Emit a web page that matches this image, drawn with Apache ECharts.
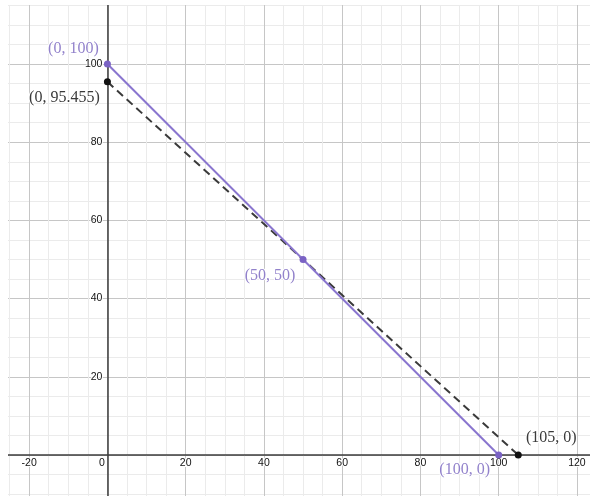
<!DOCTYPE html>
<html>
<head>
<meta charset="utf-8">
<script src="https://cdn.jsdelivr.net/npm/echarts@6/dist/echarts.min.js"></script>
<style>
  html, body { margin: 0; padding: 0; background: #fff; }
  #chart { position: absolute; left: 8px; top: 5px; width: 582px; height: 491px; overflow: hidden; }
</style>
</head>
<body>
<div id="chart"></div>
<script>
// solid purple line and its points
const solidPoints = [[0, 100], [50, 50], [100, 0]]
const solidLabels = ['(0, 100)', '(50, 50)', '(100, 0)']
// dashed black line (end points)
const dashedPoints = [[0, 95.455], [105, 0]]
const dashedLabels = ['(0, 95.455)', '(105, 0)']
// axis ranges and ticks
const xRange = [-40, 140]
const yRange = [-20, 120]
const tickStep = 20

// where each label sits relative to its point (px)
const solidOffsets = [[-34, -15], [-33, 16], [-34, 15]]
const dashedOffsets = [[-43, 16], [33, -17]]

const purple = '#8a76cf'
const purpleText = '#9282cb'
const dark = '#3a3a3a'

// grid is larger than the view so the edges land on round numbers
const grid = { left: -57.1, right: -65.2, top: -19.2, bottom: -37.2 }
const W = 582, H = 491
const pxX = (W - grid.left - grid.right) / (xRange[1] - xRange[0])
const pxY = (H - grid.top - grid.bottom) / (yRange[1] - yRange[0])
// move the axes (line + labels) onto the zero lines
const xAxisOffset = -(0 - yRange[0]) * pxY
const yAxisOffset = -(0 - xRange[0]) * pxX

const chart = echarts.init(document.getElementById('chart'))

const tickLabel = {
  fontFamily: 'Liberation Sans, Arial, sans-serif',
  fontSize: 10.5,
  color: '#111',
  textBorderColor: '#fff',
  textBorderWidth: 2,
}

function pointLabel(color) {
  return {
    show: true,
    position: 'inside',
    fontFamily: 'Liberation Serif, Times New Roman, serif',
    fontSize: 16,
    color: color,
    textBorderColor: '#fff',
    textBorderWidth: 2,
  }
}

function axisCommon(range) {
  return {
    type: 'value',
    min: range[0],
    max: range[1],
    interval: tickStep,
    axisLine: { onZero: false, lineStyle: { color: '#3c3c3c', width: 1.5 } },
    axisTick: { show: false },
    splitLine: { show: true, lineStyle: { color: '#c6c6c6', width: 1 } },
    minorTick: { show: false, splitNumber: 4 },
    minorSplitLine: { show: true, lineStyle: { color: '#ebebeb', width: 1 } },
  }
}

chart.setOption({
  animation: false,
  grid: Object.assign({ containLabel: false, outerBoundsMode: 'none' }, grid),
  xAxis: Object.assign(axisCommon(xRange), {
    position: 'bottom',
    offset: xAxisOffset,
    axisLabel: Object.assign({}, tickLabel, {
      margin: 3,
      formatter: v => v === 0 ? '{z|0}' : String(v),
      rich: { z: Object.assign({}, tickLabel, { padding: [0, 11, 0, 0] }) },
    }),
  }),
  yAxis: Object.assign(axisCommon(yRange), {
    position: 'left',
    offset: yAxisOffset,
    axisLabel: Object.assign({}, tickLabel, {
      margin: 5,
      formatter: v => v === 0 ? '' : String(v),
    }),
  }),
  series: [
    {
      type: 'line',
      data: dashedPoints.map((p, i) => ({
        value: p,
        label: Object.assign(pointLabel(dark), {
          formatter: dashedLabels[i],
          offset: dashedOffsets[i],
        }),
      })),
      lineStyle: { color: dark, width: 2, type: [8, 5] },
      symbol: 'circle',
      symbolSize: 7,
      itemStyle: { color: '#111' },
      z: 3,
    },
    {
      type: 'line',
      data: solidPoints.map((p, i) => ({
        value: p,
        label: Object.assign(pointLabel(purpleText), {
          formatter: solidLabels[i],
          offset: solidOffsets[i],
        }),
      })),
      lineStyle: { color: purple, width: 2 },
      symbol: 'circle',
      symbolSize: 7,
      itemStyle: { color: '#7a62c4' },
      z: 4,
    },
  ],
})
</script>
</body>
</html>
